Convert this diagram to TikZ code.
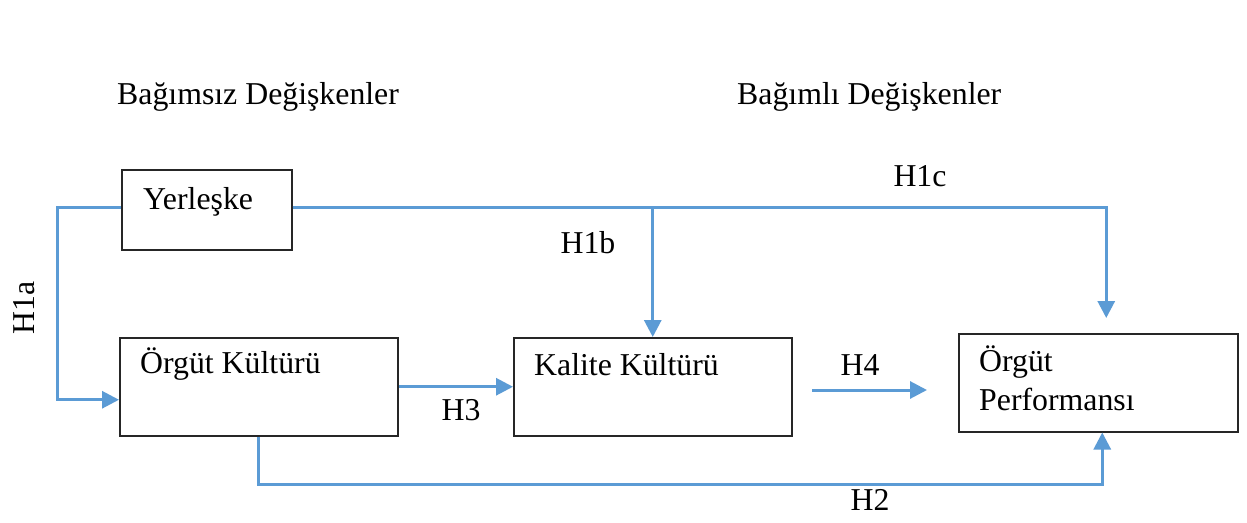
\documentclass[tikz,border=0pt]{standalone}
\usepackage{fontspec}
\setmainfont{Liberation Serif}
\usetikzlibrary{arrows.meta}
\definecolor{lineblue}{HTML}{5B9BD5}
\begin{document}
\begin{tikzpicture}[x=1pt,y=-1pt,
  every node/.style={font=\fontsize{31.8}{39}\selectfont, inner sep=0pt},
  boxnode/.style={draw=black!85, line width=1.5pt, minimum width=#1},
  conn/.style={draw=lineblue, line width=3pt},
  arr/.style={conn, -{Triangle[length=17pt,width=17pt]}},
  lbl/.style={anchor=center}
]
\useasboundingbox (0,0) rectangle (1247,522);
\fill[white] (0,0) rectangle (1247,522);

% boxes
\node[boxnode=170, minimum height=80, anchor=north west] (Y) at (121,169) {};
\node[boxnode=278, minimum height=98, anchor=north west] (O) at (119,337) {};
\node[boxnode=278, minimum height=98, anchor=north west] (K) at (513,337) {};
\node[boxnode=279, minimum height=98, anchor=north west] (P) at (958,333) {};

% box texts
\node[anchor=base west] (Yt) at (143,209) {Yerleşke};
\node[anchor=base west] (Ot) at (140,373) {Örgüt Kültürü};
\node[anchor=base west] (Kt) at (534,375) {Kalite Kültürü};
\node[anchor=base west] (Pt1) at (979,371) {Örgüt};
\node[anchor=base west] (Pt2) at (979,410) {Performansı};

% headers
\node[anchor=base west] (h1) at (117,104) {Bağımsız Değişkenler};
\node[anchor=base west] (h2) at (737,104) {Bağımlı Değişkenler};

% connectors
\coordinate (yw) at ([yshift=2pt]Y.west);
\coordinate (ye) at ([yshift=2pt]Y.east);
\draw[arr] (yw) -- ++(-64,0) |- ([yshift=-13pt]O.west);
\draw[arr, shorten >=15pt] (ye) -| ([xshift=8pt]P.north);
\draw[arr] (K.north |- ye) -- (K.north);
\draw[arr] (O.east) -- (K.west);
\coordinate (h4s) at (812,390);
\coordinate (h4e) at (927,390);
\draw[arr] (h4s) -- (h4e);
\draw[arr] (O.south) -- ++(0,48) -| ([xshift=4pt]P.south);

% labels
\node[lbl, rotate=90] (l1a) at (24,308) {H1a};
\node[lbl] (l1b) at (588,243) {H1b};
\node[lbl] (l1c) at (920,176) {H1c};
\node[lbl] (l3) at (461,410) {H3};
\node[lbl] (l4) at (860,365) {H4};
\node[lbl] (l2) at (870,500) {H2};
\end{tikzpicture}
\end{document}
